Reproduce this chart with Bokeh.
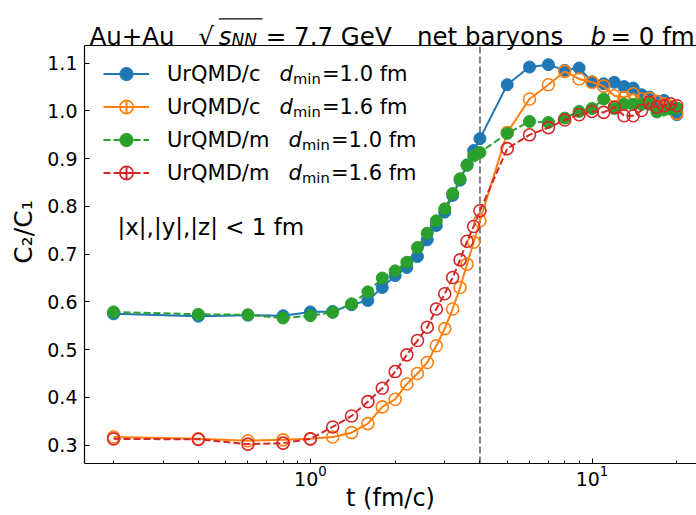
import math
from bokeh.plotting import figure
from bokeh.models import (Range1d, FixedTicker, Span, Label, Legend, LegendItem,
                          ColumnDataSource, BoxAnnotation)
from bokeh.embed import file_html
from bokeh.resources import INLINE

# ---------------- data ----------------
t = [0.2, 0.4, 0.6, 0.8, 1.0, 1.2, 1.4, 1.6, 1.8, 2.0, 2.2, 2.4, 2.6, 2.8, 3.0,
     3.2, 3.4, 3.6, 3.8, 4.0, 5, 6, 7, 8, 9, 10, 11, 12, 13, 14, 15, 16, 17, 18, 19, 20]

c_d10 = [0.575, 0.570, 0.572, 0.571, 0.579, 0.580, 0.594, 0.603, 0.630, 0.655, 0.672,
         0.695, 0.730, 0.760, 0.788, 0.823, 0.855, 0.887, 0.917, 0.942, 1.055, 1.092,
         1.097, 1.085, 1.090, 1.061, 1.057, 1.060, 1.051, 1.048, 1.034, 1.029, 1.020,
         1.022, 1.010, 0.992]
c_d16 = [0.317, 0.313, 0.309, 0.311, 0.313, 0.317, 0.326, 0.345, 0.380, 0.396, 0.428,
         0.450, 0.473, 0.508, 0.544, 0.585, 0.630, 0.679, 0.725, 0.770, 0.955, 1.025,
         1.055, 1.083, 1.067, 1.060, 1.052, 1.032, 1.028, 1.036, 1.025, 1.026, 1.020,
         1.015, 1.010, 0.995]
m_d10 = [0.579, 0.574, 0.573, 0.566, 0.571, 0.578, 0.596, 0.621, 0.650, 0.665, 0.683,
         0.714, 0.744, 0.770, 0.795, 0.827, 0.858, 0.886, 0.906, 0.913, 0.953, 0.978,
         0.976, 0.985, 0.999, 1.005, 1.025, 1.005, 1.014, 1.014, 1.014, 1.014, 0.998,
         1.002, 1.004, 1.006]
m_d16 = [0.313, 0.312, 0.302, 0.304, 0.313, 0.338, 0.361, 0.391, 0.419, 0.454, 0.489,
         0.519, 0.547, 0.585, 0.617, 0.651, 0.688, 0.727, 0.758, 0.791, 0.921, 0.950,
         0.965, 0.981, 0.992, 0.999, 0.997, 1.008, 0.990, 0.990, 1.001, 1.018, 1.008,
         1.011, 1.015, 1.011]

series_names = ["UrQMD/c", "UrQMD/c", "UrQMD/m", "UrQMD/m"]
series_dmin = ["=1.0 fm", "=1.6 fm", "=1.0 fm", "=1.6 fm"]
series_vals = [c_d10, c_d16, m_d10, m_d16]
series_colors = ["#1f77b4", "#ff7f0e", "#2ca02c", "#d62728"]
series_filled = [True, False, True, False]
series_dash = ["solid", "solid", "7 3", "7 3"]

y_ticks = [0.3, 0.4, 0.5, 0.6, 0.7, 0.8, 0.9, 1.0, 1.1]
y_tick_labels = ["0.3", "0.4", "0.5", "0.6", "0.7", "0.8", "0.9", "1.0", "1.1"]
t_marker = 4.0

FONT = "DejaVu Sans"

# axes box (data region) and the frame, which also holds the title strip above
X_LO, X_HI = 0.1577, 23.5
Y_LO, Y_TOP = 0.2614, 1.1371
Y_FRAME_TOP = Y_LO + 462.7 / 477.0

p = figure(width=696, height=515, x_axis_type="log", output_backend="svg",
           toolbar_location=None,
           x_range=Range1d(X_LO, X_HI), y_range=Range1d(Y_LO, Y_FRAME_TOP),
           min_border_left=84, min_border_right=0, min_border_top=0,
           min_border_bottom=52)
p.grid.visible = False
p.outline_line_color = None
p.background_fill_color = "white"
p.border_fill_color = "white"

for ax in (p.xaxis[0], p.yaxis[0]):
    ax.major_tick_in = 5
    ax.major_tick_out = 0
    ax.minor_tick_in = 3
    ax.minor_tick_out = 0
    ax.axis_line_color = "black"
    ax.axis_line_width = 1.2
    ax.major_tick_line_color = "black"
    ax.minor_tick_line_color = "black"
    ax.major_label_text_font = FONT
    ax.major_label_text_font_size = "19px"
    ax.major_label_text_color = "black"
    ax.axis_label_text_font = FONT
    ax.axis_label_text_font_style = "normal"
    ax.axis_label_text_color = "black"

p.xaxis.major_label_standoff = 1
p.xaxis.axis_label = "t (fm/c)"
p.xaxis.axis_label_text_font_size = "24px"
p.xaxis.axis_label_standoff = -5

p.yaxis.ticker = FixedTicker(ticks=y_ticks)
p.yaxis.major_label_overrides = {v: s for v, s in zip(y_ticks, y_tick_labels)}
p.yaxis.major_label_standoff = 7
p.yaxis.minor_tick_line_color = None
p.yaxis.bounds = (Y_LO, Y_TOP)
p.yaxis.axis_label = "C₂/C₁"
p.yaxis.axis_label_text_font_size = "25px"
p.yaxis.axis_label_standoff = 6

# top spine
p.add_layout(Span(location=Y_TOP, dimension="width", line_color="black",
                  line_width=1.2))

# vertical marker at t = 4 fm/c
p.segment(x0=[t_marker], y0=[Y_LO], x1=[t_marker], y1=[Y_TOP], line_color="#808080",
          line_dash="7 3", line_width=2)

items = []
for name, vals, col, filled, dash in zip(series_names, series_vals, series_colors,
                                         series_filled, series_dash):
    src = ColumnDataSource(dict(t=t, v=vals))
    ln = p.line("t", "v", source=src, line_color=col, line_width=2, line_dash=dash)
    if filled:
        sc = p.scatter("t", "v", source=src, size=12, marker="circle",
                       fill_color=col, line_color=col, line_width=1)
    else:
        sc = p.scatter("t", "v", source=src, size=12, marker="circle",
                       fill_alpha=0, line_color=col, line_width=1.6)
    eb = p.scatter(x=[1000.0], y=[0.5], marker="cross", size=13,
                   line_color=col, line_width=2)
    items.append(LegendItem(label=name, renderers=[ln, sc, eb]))

legend = Legend(items=items, location=(19, 274), padding=0, margin=0, spacing=0,
                glyph_width=46, glyph_height=33, label_height=33, label_standoff=18,
                border_line_color=None, background_fill_alpha=0,
                label_text_font=FONT, label_text_font_size="21px",
                label_text_color="black")
p.add_layout(legend)

# ---------------- texts (screen coords relative to frame) ----------------
FL, FB = 84.0, 462.7


def lab(text, X, Y, size, style="normal", baseline="alphabetic", align="left",
        angle=0.0):
    p.add_layout(Label(x=X - FL, y=FB - Y, x_units="screen", y_units="screen",
                       text=text, text_font=FONT, text_font_size=f"{size}px",
                       text_font_style=style, text_baseline=baseline,
                       text_align=align, angle=angle, text_color="black"))


# title
TB = 35.5
TS = 24.5
lab("Au+Au", 88.9, TB, TS)
lab("√", 197.8, TB, TS)
lab("s", 218.3, TB, TS, "italic")
lab("NN", 231.0, TB + 4, 17, "italic")
lab("= 7.7 GeV", 265.3, TB, TS)
lab("net baryons", 416.4, TB, TS)
lab("b", 590.0, TB, TS, "italic")
lab("= 0 fm", 610.0, TB, TS)
p.add_layout(BoxAnnotation(left=218.3 - FL, right=262 - FL, bottom=FB - 18.8,
                           top=FB - 17.4, left_units="screen", right_units="screen",
                           bottom_units="screen", top_units="screen",
                           fill_color="black", fill_alpha=1, line_color=None))

# legend d_min parts
row_c = [73.3, 106.3, 139.3, 172.3]
d_x = [279.0, 279.0, 288.0, 288.0]
for k in range(4):
    lab("d", d_x[k], row_c[k], 21, "italic", baseline="middle")
    lab("min", d_x[k] + 13.5, row_c[k] + 4, 14.7, baseline="middle")
    lab(series_dmin[k], d_x[k] + 42.5, row_c[k], 21, baseline="middle")

# region label
lab("|x|,|y|,|z| < 1 fm", 117.0, 226.0, 23, baseline="middle")

open("out.html", "w").write(file_html(p, INLINE))
